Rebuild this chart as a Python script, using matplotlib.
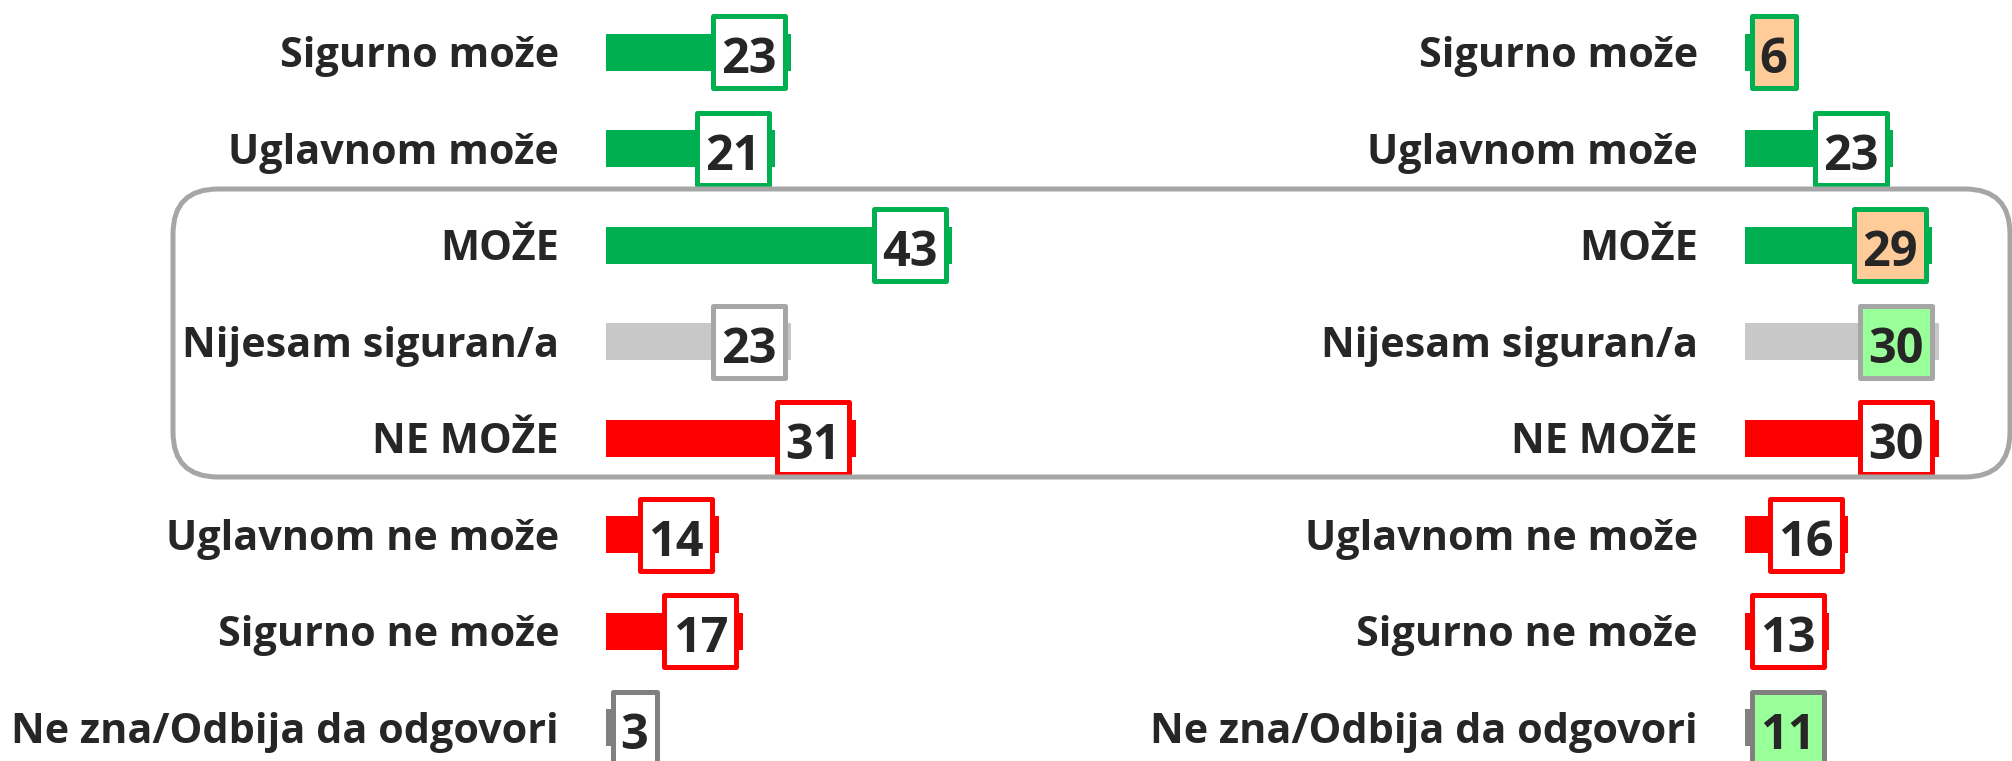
import matplotlib
matplotlib.use("Agg")
import matplotlib.pyplot as plt
from matplotlib.patches import Rectangle, FancyBboxPatch

categories = ["Sigurno može", "Uglavnom može", "MOŽE", "Nijesam siguran/a",
              "NE MOŽE", "Uglavnom ne može", "Sigurno ne može",
              "Ne zna/Odbija da odgovori"]
left_values = [23, 21, 43, 23, 31, 14, 17, 3]
right_values = [6, 23, 29, 30, 30, 16, 13, 11]

GREEN = "#00B050"
LGRAY = "#C8C8C8"
RED = "#FF0000"
DGRAY = "#808080"
bar_colors = [GREEN, GREEN, GREEN, LGRAY, RED, RED, RED, DGRAY]
edge_colors = [GREEN, GREEN, GREEN, "#A6A6A6", RED, RED, RED, DGRAY]
left_fills = ["white"] * 8
right_fills = ["#FFCC99", "white", "#FFCC99", "#99FF99", "white", "white", "white", "#99FF99"]

FONT = ["Open Sans", "DejaVu Sans"]
TXT = "#262626"

W, H, DPI = 2012, 761, 100
fig = plt.figure(figsize=(W / DPI, H / DPI), dpi=DPI)

row_px = 96.5
top_off = 52.0
n = len(categories)
y_top = -top_off / row_px
y_bot = y_top + H / row_px


def panel(left_px, width_px, px_per_unit, values, fills):
    ax = fig.add_axes([left_px / W, 0, width_px / W, 1])
    ax.set_xlim(0, width_px / px_per_unit)
    ax.set_ylim(y_bot, y_top)
    ax.axis("off")
    ypos = list(range(n))
    ax.barh(ypos, values, height=37 / row_px, color=bar_colors, zorder=2)
    lw_px = 5.0
    for i, (v, c) in enumerate(zip(values, categories)):
        ax.annotate(c, xy=(0, i), xytext=(-47, -15), textcoords="offset pixels",
                    ha="right", va="baseline", fontsize=29.8, fontweight="bold",
                    family=FONT, color=TXT)
        bw = 77 if v >= 10 else 49
        bh = 77
        end_px = v * px_per_unit
        right = end_px - 4
        left = max(4, right - bw)
        x0 = (left + lw_px / 2) / px_per_unit
        w = (bw - lw_px) / px_per_unit
        h = (bh - lw_px) / row_px
        rect = Rectangle((x0, i - h / 2), w, h, facecolor=fills[i],
                         edgecolor=edge_colors[i], linewidth=lw_px * 72 / DPI,
                         joinstyle="round", zorder=3)
        ax.add_patch(rect)
        cx = (left + bw / 2) / px_per_unit
        ax.annotate(str(v), xy=(cx, i), xytext=(0, -21), textcoords="offset pixels",
                    ha="center", va="baseline", fontsize=35, fontweight="bold",
                    family=FONT, color=TXT, zorder=4)
    return ax


panel(606, 400, 8.05, left_values, left_fills)
panel(1745, 262, 6.45, right_values, right_fills)

frame = FancyBboxPatch((173, H - 477), 1837, 288,
                       boxstyle="round,pad=0,rounding_size=45",
                       transform=None, facecolor="none", edgecolor="#A6A6A6",
                       linewidth=5 * 72 / DPI, zorder=1)
fig.patches.append(frame)

fig.savefig("out.png", dpi=DPI, facecolor="white")
